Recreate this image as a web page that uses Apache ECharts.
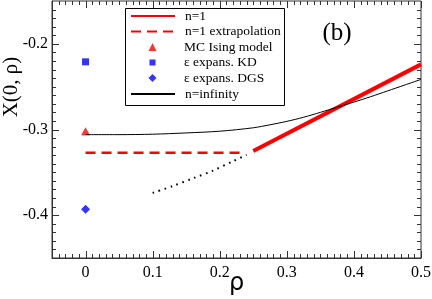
<!DOCTYPE html>
<html>
<head>
<meta charset="utf-8">
<script src="https://cdn.jsdelivr.net/npm/echarts@6/dist/echarts.min.js"></script>
<style>html,body{margin:0;padding:0;background:#fff}#c{width:432px;height:299px}</style>
</head>
<body>
<div id="c"></div>
<script>
// ---- data ----
const n1X = [0.25, 0.5];
const n1Y = [-0.325, -0.224];
const extrapX = [0, 0.23];
const extrapY = [-0.327, -0.327];
const mcX = [0];
const mcY = [-0.302];
const kdX = [0];
const kdY = [-0.221];
const dgsX = [0];
const dgsY = [-0.393];
const ninfX = [0, 0.05, 0.1, 0.15, 0.2, 0.25, 0.275, 0.3, 0.325, 0.35, 0.375, 0.4, 0.425, 0.45, 0.475, 0.5];
const ninfY = [-0.306, -0.306, -0.3055, -0.304, -0.302, -0.298, -0.2945, -0.2905, -0.2857, -0.280, -0.274, -0.268, -0.2617, -0.255, -0.2483, -0.2415];
const dotX = [0.1, 0.13, 0.16, 0.19, 0.22, 0.24];
const dotY = [-0.374, -0.366, -0.357, -0.348, -0.337, -0.3295];
const xTicks = [0, 0.1, 0.2, 0.3, 0.4, 0.5];
const yTicks = [-0.4, -0.3, -0.2];
const legendNames = ['n=1', 'n=1 extrapolation', 'MC Ising model', 'ε expans. KD', 'ε expans. DGS', 'n=infinity'];

const xMin = -0.05, xMax = 0.5, yMin = -0.45, yMax = -0.15;
const minorStep = 0.01;
const G = { left: 52, right: 11, top: 1, bottom: 41 };
const zip = (xs, ys) => xs.map((x, i) => [x, ys[i]]);
const serif = '"Liberation Serif", "Times New Roman", serif';
const axisCol = '#333';
const lineSt = { color: axisCol, width: 1 };

function steps(a, b, s) {
  const out = [], n = Math.round((b - a) / s);
  for (let i = 1; i < n; i++) out.push(Math.round((a + i * s) * 1000) / 1000);
  return out;
}
const xMinor = steps(xMin, xMax, minorStep);
const yMinor = steps(yMin, yMax, minorStep);
// tick descriptors: [value, side(0 bottom,1 top,2 left,3 right), length px]
const tickData = [];
[0, 1].forEach(side => {
  xMinor.forEach(v => tickData.push([v, side, 4]));
  xTicks.forEach(v => tickData.push([v, side, 7]));
});
[2, 3].forEach(side => {
  yMinor.forEach(v => tickData.push([v, side, 4]));
  yTicks.forEach(v => tickData.push([v, side, 7]));
});
function renderTick(params, api) {
  const v = api.value(0), side = api.value(1), len = api.value(2);
  let x1, y1, x2, y2;
  if (side === 0 || side === 1) {
    const p = api.coord([v, side === 0 ? yMin : yMax]);
    x1 = x2 = Math.round(p[0]) + 0.5;
    y1 = p[1];
    y2 = side === 0 ? p[1] - len : p[1] + len;
  } else {
    const p = api.coord([side === 2 ? xMin : xMax, v]);
    y1 = y2 = Math.round(p[1]) + 0.5;
    x1 = p[0];
    x2 = side === 2 ? p[0] + len : p[0] - len;
  }
  return { type: 'line', shape: { x1, y1, x2, y2 }, style: { stroke: axisCol, lineWidth: 1 } };
}

const rowY = [16, 31.5, 47, 62.5, 78, 94];
const lineLeg = (name, i) => ({
  id: 'lg' + i, data: [{ name: name, itemStyle: { opacity: 0, color: 'rgba(0,0,0,0)', borderWidth: 0 } }],
  left: 130, top: rowY[i] - 7, padding: 0, itemWidth: 44, itemHeight: 7,
  selectedMode: false, z: 10,
  textStyle: { fontFamily: serif, fontSize: 13.5, lineHeight: 14, color: '#000', padding: [0, 0, 0, 5] }
});
const symLeg = (name, i, w) => ({
  id: 'lg' + i, data: [{ name: name }],
  left: 152.5 - w / 2, top: rowY[i] - 7, padding: 0, itemWidth: w, itemHeight: w,
  selectedMode: false, z: 10,
  textStyle: { fontFamily: serif, fontSize: 13.5, lineHeight: 14, color: '#000', padding: [0, 0, 0, 184 - (152.5 + w / 2 + 5)] }
});

const option = {
  animation: false,
  backgroundColor: '#fff',
  grid: Object.assign({ outerBoundsMode: 'none', containLabel: false, show: true, borderColor: axisCol, borderWidth: 1, backgroundColor: 'transparent' }, G),
  xAxis: {
    type: 'value', position: 'bottom', min: xMin, max: xMax,
    axisLine: { show: true, onZero: false, lineStyle: lineSt }, axisTick: { show: false },
    axisLabel: { show: true, customValues: xTicks, color: '#000', fontFamily: serif, fontSize: 16, margin: 7,
      formatter: v => String(Math.round(v * 10) / 10) },
    splitLine: { show: false },
    name: 'ρ', nameLocation: 'middle', nameGap: 14, nameMoveOverlap: false,
    nameTextStyle: { fontFamily: '"DejaVu Sans", sans-serif', fontSize: 24, color: '#000' }
  },
  yAxis: {
    type: 'value', position: 'left', min: yMin, max: yMax,
    axisLine: { show: true, onZero: false, lineStyle: lineSt }, axisTick: { show: false },
    axisLabel: { show: true, customValues: yTicks, color: '#000', fontFamily: serif, fontSize: 16, margin: 4,
      formatter: v => String(Math.round(v * 10) / 10) },
    splitLine: { show: false }
  },
  legend: [
    lineLeg(legendNames[0], 0),
    lineLeg(legendNames[1], 1),
    symLeg(legendNames[2], 2, 8),
    symLeg(legendNames[3], 3, 6),
    symLeg(legendNames[4], 4, 8),
    lineLeg(legendNames[5], 5)
  ],
  graphic: [
    { type: 'rect', z: 5, shape: { x: 125.5, y: 8.5, width: 159, height: 97 },
      style: { fill: '#fff', stroke: '#000', lineWidth: 1 } },
    { type: 'text', x: 11, y: 87, rotation: Math.PI / 2,
      style: { text: 'X(0, ρ)', font: '21px "Liberation Serif"', fill: '#000', align: 'center', verticalAlign: 'middle' } },
    { type: 'text', x: 337, y: 33,
      style: { text: '(b)', font: '25px "Liberation Serif"', fill: '#000', align: 'center', verticalAlign: 'middle' } }
  ],
  series: [
    { name: 'axis ticks', type: 'custom', data: tickData, renderItem: renderTick, clip: false, silent: true, z: 3 },
    { name: 'n=1', type: 'line', data: zip(n1X, n1Y), symbol: 'none', color: '#ff0000',
      lineStyle: { color: '#ff0000', width: 4 } },
    { name: 'n=1 extrapolation', type: 'line', data: zip(extrapX, extrapY), symbol: 'none', color: '#ff0000',
      lineStyle: { color: '#ff0000', width: 2.5, type: [10, 6] } },
    { name: 'MC Ising model', type: 'scatter', data: zip(mcX, mcY), symbol: 'triangle', symbolSize: [9, 8], color: '#ff0000' },
    { name: 'ε expans. KD', type: 'scatter', data: zip(kdX, kdY), symbol: 'rect', symbolSize: 7, color: '#0000ff' },
    { name: 'ε expans. DGS', type: 'scatter', data: zip(dgsX, dgsY), symbol: 'diamond', symbolSize: 9, color: '#0000ff' },
    { name: 'n=infinity', type: 'line', data: zip(ninfX, ninfY), symbol: 'none', smooth: 0.3, color: '#000',
      lineStyle: { color: '#000', width: 1 } },
    { name: 'n=1 dotted', type: 'line', data: zip(dotX, dotY), symbol: 'none', smooth: 0.3, color: '#000',
      lineStyle: { color: '#000', width: 2, type: [1.6, 4.7] } }
  ]
};
const chart = echarts.init(document.getElementById('c'), null, { renderer: 'canvas' });
chart.setOption(option);
</script>
</body>
</html>
